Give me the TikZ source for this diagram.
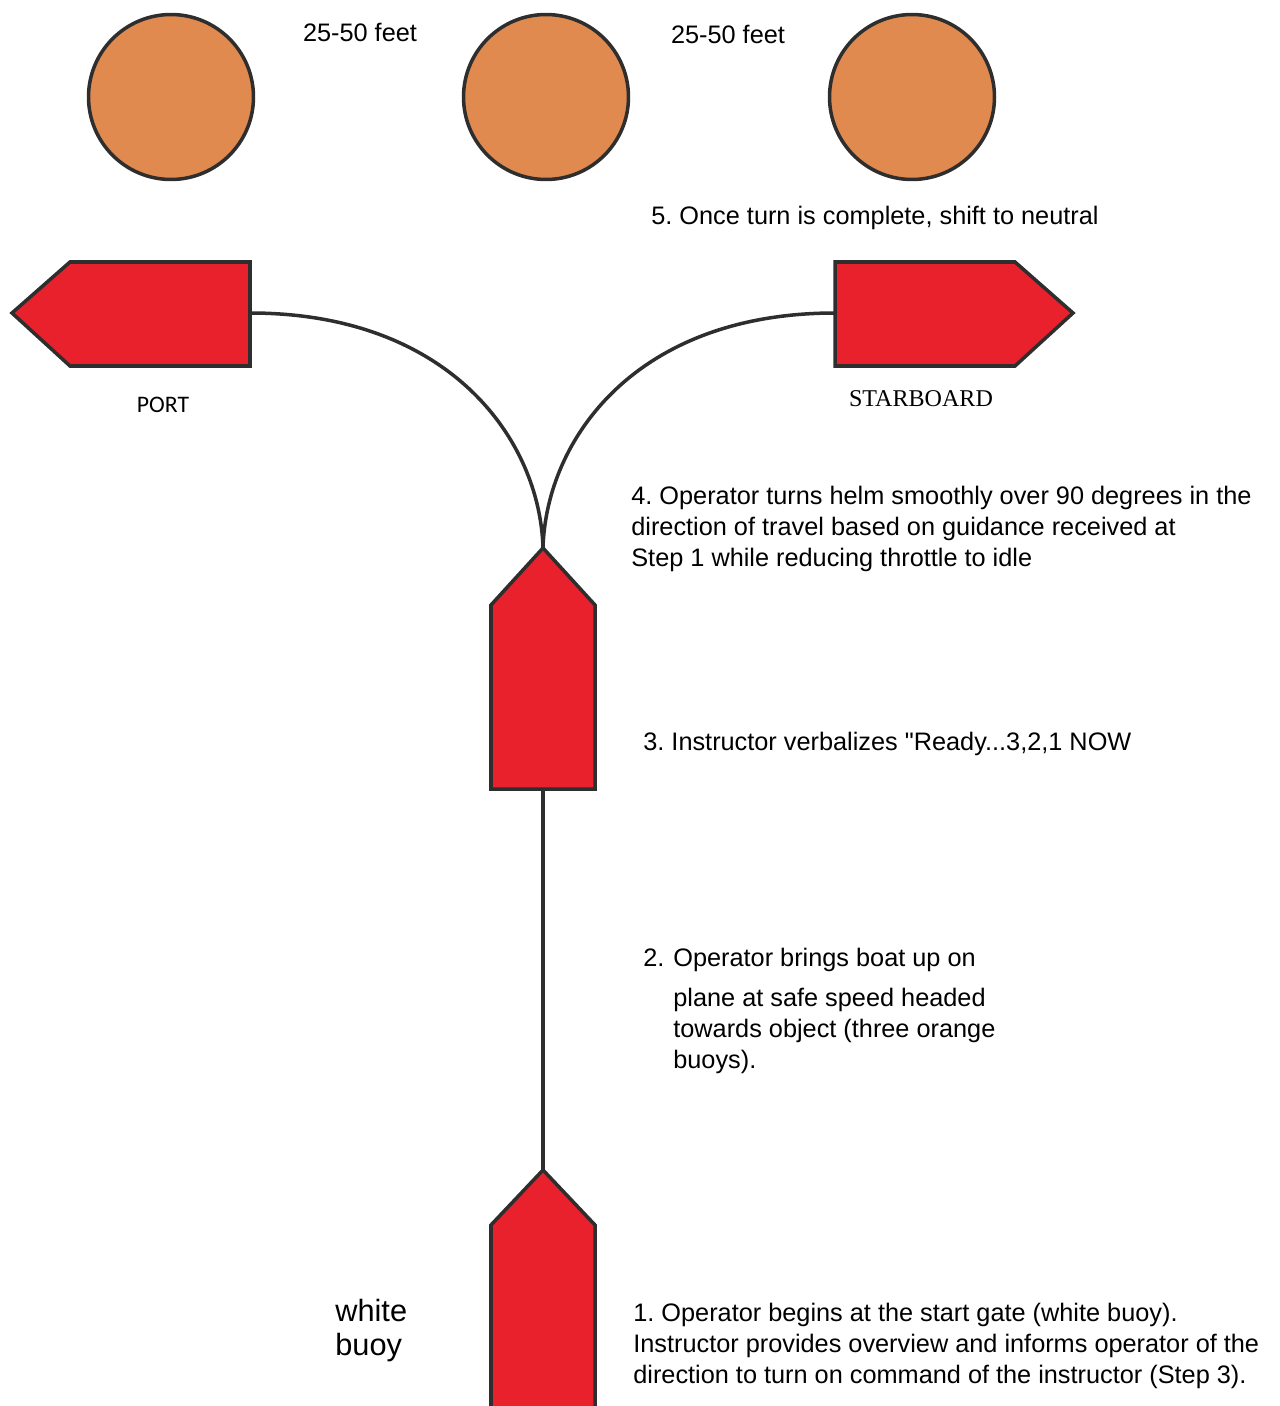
\documentclass[tikz,border=0pt]{standalone}
\usepackage{fontspec}
\setmainfont{Liberation Sans}[Ligatures=TeXOff]
\newfontfamily\portfont{Carlito}
\newfontfamily\starfont{Liberation Serif}
\usetikzlibrary{positioning}
\definecolor{buoyorange}{HTML}{E08A50}
\definecolor{boatred}{HTML}{E8212D}
\definecolor{outline}{HTML}{2E2E2E}
\frenchspacing

\begin{document}
\begin{tikzpicture}[
  x=0.02cm, y=-0.02cm,
  font=\fontsize{14.4}{17.4}\selectfont,
  buoy/.style={circle, draw=outline, fill=buoyorange, line width=2pt, minimum size=3.3cm, inner sep=0pt},
  boat/.style={draw=outline, fill=boatred, line width=2pt, line join=miter},
  track/.style={draw=outline, line width=2pt},
  steptext/.style={anchor=base west, align=left, inner sep=0pt}
]
\useasboundingbox (0,0) rectangle (1279,1406);

% orange buoys at the far end
\node[buoy] (buoyL) at (171,97) {};
\node[buoy] (buoyM) at (546,97) {};
\node[buoy] (buoyR) at (912,97) {};
\node[anchor=base] (gapL) at (360,42) {25-50 feet};
\node[anchor=base] (gapR) at (728,44) {25-50 feet};

% bow and stern points of the boats
\coordinate (portstern) at (250,313);
\coordinate (starstern) at (835,313);
\coordinate (midbow) at (543,548);
\coordinate (midstern) at (543,789);
\coordinate (startbow) at (543,1170);

% tracks
\draw[track] (portstern) .. controls +(200,0) and +(-3,-108) .. (midbow);
\draw[track] (starstern) .. controls +(-200,0) and +(3,-108) .. (midbow);
\draw[track] (midstern) -- (startbow);

% boats
\draw[boat] (12,313) -- (70,262) -- (250,262) -- (250,366) -- (70,366) -- cycle;
\draw[boat] (835,262) -- (1015,262) -- (1073,313) -- (1015,366) -- (835,366) -- cycle;
\draw[boat] (midbow) -- (595,605) -- (595,789) -- (491,789) -- (491,605) -- cycle;
\draw[boat] (startbow) -- (595,1225) -- (595,1420) -- (491,1420) -- (491,1225) -- cycle;

\node[anchor=base, font=\portfont\fontsize{13.5}{16}\selectfont] (portlabel) at (163,412) {PORT};
\node[anchor=base, font=\starfont\fontsize{13.7}{16}\selectfont] (starlabel) at (921,406) {STARBOARD};

% steps (base = last line)
\node[steptext] (step5) at (651,224) {5. Once turn is complete, shift to neutral};
\node[steptext] (step4) at (631,566)
  {4. Operator turns helm smoothly over 90 degrees in the\\
   direction of travel based on guidance received at\\
   Step 1 while reducing throttle to idle};
\node[steptext] (step3) at (643,750) {3. Instructor verbalizes "Ready...3,2,1 NOW};
\node[steptext] (step2) at (673,1068)
  {\llap{2.\hspace{0.18cm}}Operator brings boat up on\\[0.19cm]
   plane at safe speed headed\\
   towards object (three orange\\
   buoys).};
\node[steptext, font=\fontsize{17.5}{19.3}\selectfont] (whitebuoy) at (335,1355) {white\\buoy};
\node[steptext] (step1) at (633,1383)
  {1. Operator begins at the start gate (white buoy).\\
   Instructor provides overview and informs operator of the\\
   direction to turn on command of the instructor (Step 3).};
\end{tikzpicture}
\end{document}
